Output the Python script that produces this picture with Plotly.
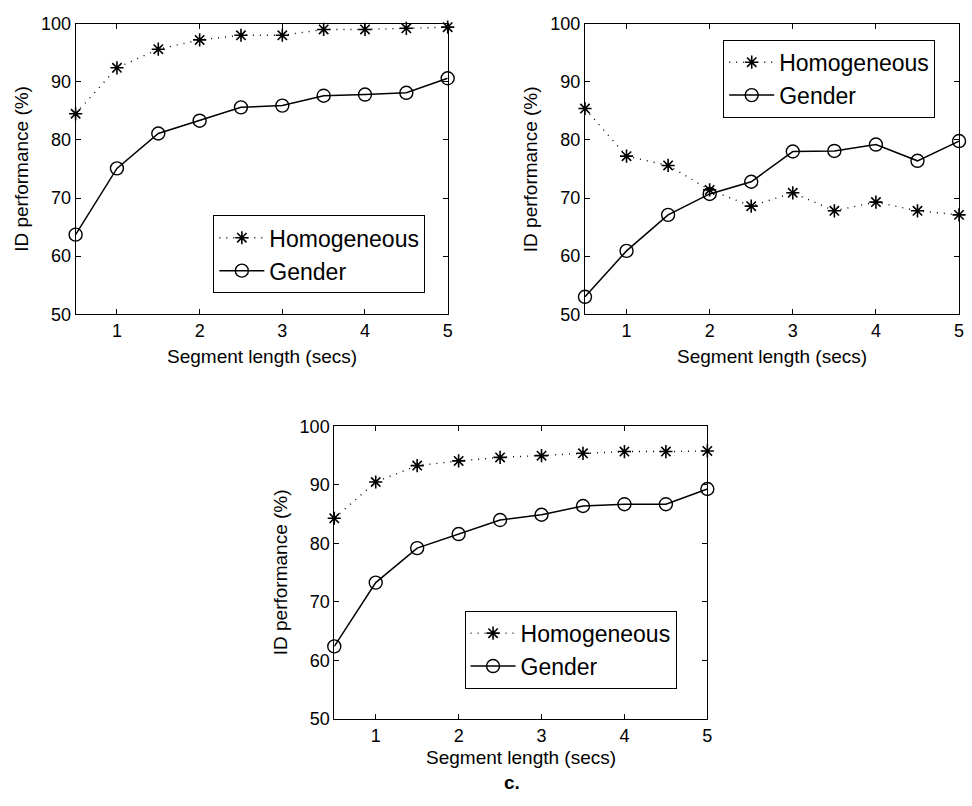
import plotly.graph_objects as go

seg_len = [0.5, 1, 1.5, 2, 2.5, 3, 3.5, 4, 4.5, 5]

a_homog = [84.5, 92.4, 95.6, 97.2, 98.0, 98.0, 99.0, 99.0, 99.2, 99.4]
a_gender = [63.7, 75.1, 81.1, 83.3, 85.6, 85.9, 87.6, 87.8, 88.1, 90.6]

b_homog = [85.4, 77.2, 75.6, 71.4, 68.6, 70.9, 67.8, 69.3, 67.8, 67.1]
b_gender = [53.0, 60.9, 67.1, 70.7, 72.8, 78.0, 78.1, 79.2, 76.4, 79.8]

c_homog = [84.3, 90.5, 93.3, 94.1, 94.7, 95.0, 95.4, 95.7, 95.7, 95.8]
c_gender = [62.4, 73.3, 79.2, 81.6, 84.0, 84.9, 86.4, 86.7, 86.7, 89.3]

x_ticks = [1, 2, 3, 4, 5]
y_ticks = [50, 60, 70, 80, 90, 100]

W, H = 972, 806
FONT = "Liberation Sans, Arial, sans-serif"

# panel pixel boxes: (left, right, top, bottom); legend box centre (x, y)
panels = [
    dict(box=(76, 450, 14, 312), homog=a_homog, gender=a_gender, legend_c=(321, 250.5)),
    dict(box=(588, 964, 14, 312), homog=b_homog, gender=b_gender, legend_c=(833.5, 70.5)),
    dict(box=(336, 711, 427, 727), homog=c_homog, gender=c_gender, legend_c=(573.5, 656)),
]

fig = go.Figure()
layout = dict(
    width=W, height=H,
    margin=dict(l=0, r=0, t=0, b=0),
    paper_bgcolor="white", plot_bgcolor="white",
    font=dict(family=FONT, color="black", size=18),
    annotations=[],
)

for i, p in enumerate(panels):
    n = "" if i == 0 else str(i + 1)
    L, R, T, B = p["box"]
    xa, ya = "x" + n, "y" + n
    leg = "legend" + n
    fig.add_trace(go.Scatter(
        x=seg_len, y=p["homog"], name="Homogeneous", xaxis=xa, yaxis=ya, legend=leg,
        mode="lines+markers", cliponaxis=False,
        line=dict(color="black", width=1.4, dash="1px,6px"),
        marker=dict(symbol="asterisk-open", size=11, color="black",
                    line=dict(color="black", width=1.6)),
    ))
    fig.add_trace(go.Scatter(
        x=seg_len, y=p["gender"], name="Gender", xaxis=xa, yaxis=ya, legend=leg,
        mode="lines+markers", cliponaxis=False,
        line=dict(color="black", width=1.5),
        marker=dict(symbol="circle-open", size=13, color="black",
                    line=dict(color="black", width=1.4)),
    ))
    axcommon = dict(showline=True, linecolor="black", linewidth=1, mirror="ticks",
                    ticks="inside", ticklen=5, tickcolor="black", showgrid=False,
                    zeroline=False, tickfont=dict(size=18, family=FONT, color="black"))
    layout["xaxis" + n] = dict(domain=[L / W, R / W], range=[0.5, 5], anchor=ya,
                               tickvals=x_ticks, ticktext=[str(v) for v in x_ticks], **axcommon)
    layout["yaxis" + n] = dict(domain=[1 - B / H, 1 - T / H], range=[50, 100], anchor=xa,
                               tickvals=y_ticks, ticktext=[str(v) for v in y_ticks], **axcommon)
    cx, cy = p["legend_c"]
    layout[leg] = dict(x=cx / W, y=1 - cy / H, xanchor="center", yanchor="middle",
                       xref="paper", yref="paper",
                       bgcolor="white", bordercolor="black", borderwidth=1,
                       font=dict(size=23, family=FONT, color="black"),
                       itemwidth=45, tracegroupgap=0)
    # axis titles
    xt_y = B + 43 if i < 2 else B + 40
    layout["annotations"].append(dict(
        text="Segment length (secs)", x=(L + R) / 2 / W, y=1 - xt_y / H,
        xref="paper", yref="paper", showarrow=False, xanchor="center", yanchor="middle",
        font=dict(size=19, family=FONT)))
    layout["annotations"].append(dict(
        text="ID performance (%)", x=(L - 54) / W, y=1 - (T + B) / 2 / H,
        xref="paper", yref="paper", showarrow=False, textangle=-90,
        xanchor="center", yanchor="middle", font=dict(size=19, family=FONT)))

layout["annotations"].append(dict(
    text="<b>c.</b>", x=515 / W, y=1 - 792 / H, xref="paper", yref="paper",
    showarrow=False, xanchor="center", yanchor="middle", font=dict(size=19, family=FONT)))

fig.update_layout(**layout)
fig.write_html("out.html", config={"displayModeBar": False},
               post_script="document.body.style.margin='0px';document.body.style.overflow='hidden';")
